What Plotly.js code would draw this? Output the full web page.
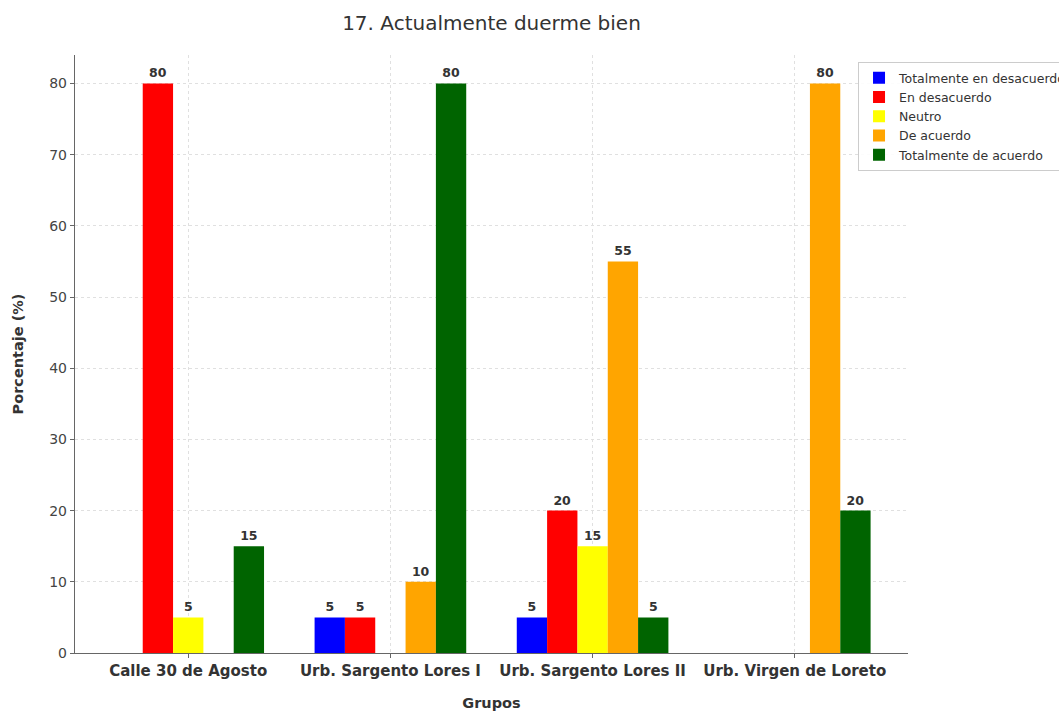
<!DOCTYPE html>
<html>
<head>
<meta charset="utf-8">
<script src="https://cdn.plot.ly/plotly-3.0.1.min.js"></script>
<style>html,body{margin:0;padding:0;background:#fff;}#chart{width:1059px;height:711px;}</style>
</head>
<body>
<div id="chart"></div>
<script>
const categories = ["Calle 30 de Agosto", "Urb. Sargento Lores I", "Urb. Sargento Lores II", "Urb. Virgen de Loreto"];
const seriesNames = ["Totalmente en desacuerdo", "En desacuerdo", "Neutro", "De acuerdo", "Totalmente de acuerdo"];
const totDesacuerdo = [0, 5, 5, 0];
const desacuerdo = [80, 5, 20, 0];
const neutro = [5, 0, 15, 0];
const deAcuerdo = [0, 10, 55, 80];
const totAcuerdo = [15, 80, 5, 20];
const seriesColors = ["#0000ff", "#ff0000", "#ffff00", "#ffa500", "#006400"];

const allSeries = [totDesacuerdo, desacuerdo, neutro, deAcuerdo, totAcuerdo];
const font = "DejaVu Sans, Verdana, sans-serif";

const traces = allSeries.map((vals, i) => ({
  type: "bar",
  name: seriesNames[i],
  x: categories,
  y: vals,
  marker: {color: seriesColors[i], line: {width: 0}},
  text: vals.map(v => v > 0 ? String(v) : ""),
  textposition: "outside",
  textfont: {family: font, size: 12.5, color: "#333333", weight: "bold"},
  cliponaxis: false,
  hoverinfo: "x+y+name"
}));

const layout = {
  width: 1059,
  height: 711,
  paper_bgcolor: "#ffffff",
  plot_bgcolor: "#ffffff",
  font: {family: font, color: "#333333"},
  margin: {l: 75, r: 151, t: 55, b: 58, autoexpand: false},
  barmode: "group",
  bargap: 0.25,
  bargroupgap: 0,
  title: {text: "17. Actualmente duerme bien", font: {family: font, size: 20, color: "#333333"}, x: 0.5, xanchor: "center", xref: "paper", y: 0.968, yref: "container", yanchor: "middle"},
  xaxis: {
    type: "category",
    range: [-0.56, 3.56],
    showline: true, linecolor: "#666666", linewidth: 1.2,
    ticks: "outside", ticklen: 4, tickcolor: "#666666",
    showgrid: true, gridcolor: "#e0e0e0", griddash: "dot", gridwidth: 1,
    tickfont: {family: font, size: 15, color: "#333333", weight: "bold"},
    title: {text: "Grupos", font: {family: font, size: 14.5, color: "#333333", weight: "bold"}, standoff: 26},
    zeroline: false
  },
  yaxis: {
    range: [0, 84],
    dtick: 10,
    showline: true, linecolor: "#666666", linewidth: 1.2,
    ticks: "outside", ticklen: 4, tickcolor: "#666666",
    showgrid: true, gridcolor: "#e0e0e0", griddash: "dot", gridwidth: 1,
    tickfont: {family: font, size: 14, color: "#444444"},
    title: {text: "Porcentaje (%)", font: {family: font, size: 14.5, color: "#333333", weight: "bold"}, standoff: 22},
    zeroline: false
  },
  legend: {
    x: 0.94, xanchor: "left", y: 0.988, yanchor: "top",
    bgcolor: "rgba(255,255,255,0.9)", bordercolor: "#cccccc", borderwidth: 1,
    font: {family: font, size: 12.5, color: "#333333"},
    tracegroupgap: 0, itemwidth: 30
  },
  showlegend: true
};

Plotly.newPlot("chart", traces, layout, {displayModeBar: false, staticPlot: true});
</script>
</body>
</html>
